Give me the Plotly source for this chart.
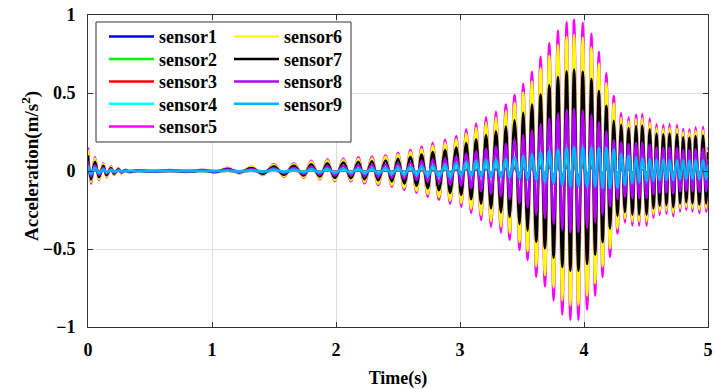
import plotly.graph_objects as go

# Times of successive extrema (peaks / troughs) of the oscillation, seconds
t_ext = [0.000, 0.024, 0.056, 0.089, 0.123, 0.150, 0.185, 0.210, 0.245, 0.270, 0.300, 0.330,
         0.40, 0.52, 0.66, 0.80, 0.93, 1.03,
         1.125, 1.22, 1.32, 1.41, 1.50, 1.58, 1.66, 1.74, 1.80, 1.87, 1.93, 1.99,
         2.06, 2.12, 2.18, 2.23, 2.29, 2.34, 2.40, 2.45, 2.50, 2.55, 2.60, 2.65, 2.69, 2.74, 2.78, 2.83, 2.88, 2.92, 2.97,
         3.01, 3.05, 3.09, 3.13, 3.17, 3.21, 3.25, 3.29, 3.33, 3.37, 3.40, 3.44, 3.48, 3.51,
         3.545, 3.58, 3.615, 3.65, 3.685, 3.72, 3.755, 3.79, 3.825, 3.86, 3.89, 3.92, 3.955, 3.99,
         4.025, 4.06, 4.09, 4.12, 4.15, 4.18, 4.21, 4.24, 4.27, 4.30, 4.33, 4.36, 4.39, 4.42, 4.445, 4.47,
         4.505, 4.53, 4.56, 4.585, 4.61, 4.64, 4.665, 4.69, 4.72, 4.75, 4.775, 4.80, 4.825, 4.85, 4.875,
         4.90, 4.93, 4.96, 4.985, 5.00]

sensor1 = [0.006, -0.003, 0.004, -0.002, 0.002, -0.002, 0.001, -0.001, 0.001, -0.001, 0.0, 0.0,
           0.0, 0.0, 0.0, 0.0, 0.0, 0.0,
           0.001, -0.001, 0.001, -0.001, 0.002, -0.001, 0.002, -0.002, 0.003, -0.002, 0.003, -0.003,
           0.003, -0.003, 0.004, -0.003, 0.004, -0.004, 0.004, -0.004, 0.005, -0.005, 0.005, -0.006, 0.006, -0.007, 0.007, -0.007, 0.008, -0.008, 0.009,
           -0.009, 0.011, -0.011, 0.012, -0.013, 0.014, -0.014, 0.015, -0.016, 0.017, -0.018, 0.019, -0.02, 0.022,
           -0.023, 0.025, -0.027, 0.029, -0.03, 0.033, -0.033, 0.036, -0.037, 0.038, -0.038, 0.039, -0.038, 0.038,
           -0.036, 0.035, -0.032, 0.031, -0.027, 0.025, -0.022, 0.019, -0.016, 0.015, -0.013, 0.014, -0.014, 0.014, -0.014, 0.015,
           -0.014, 0.013, -0.012, 0.012, -0.011, 0.012, -0.011, 0.012, -0.012, 0.012, -0.01, 0.011, -0.01, 0.011, -0.01,
           0.011, -0.011, 0.011, -0.01, 0.006]
sensor2 = [0.009, -0.005, 0.005, -0.004, 0.003, -0.002, 0.002, -0.002, 0.001, -0.001, 0.0, 0.0,
           0.0, 0.0, 0.0, 0.0, 0.0, -0.001,
           0.001, -0.001, 0.002, -0.002, 0.003, -0.002, 0.003, -0.003, 0.004, -0.003, 0.005, -0.004,
           0.005, -0.004, 0.005, -0.005, 0.006, -0.005, 0.006, -0.006, 0.007, -0.007, 0.008, -0.008, 0.009, -0.01, 0.011, -0.011, 0.012, -0.013, 0.014,
           -0.014, 0.016, -0.016, 0.018, -0.019, 0.021, -0.021, 0.023, -0.024, 0.026, -0.026, 0.029, -0.03, 0.033,
           -0.034, 0.038, -0.041, 0.044, -0.044, 0.049, -0.05, 0.054, -0.055, 0.057, -0.057, 0.058, -0.057, 0.057,
           -0.053, 0.053, -0.048, 0.046, -0.041, 0.038, -0.033, 0.029, -0.024, 0.022, -0.02, 0.021, -0.021, 0.022, -0.021, 0.022,
           -0.021, 0.02, -0.018, 0.018, -0.017, 0.018, -0.017, 0.018, -0.017, 0.018, -0.016, 0.016, -0.015, 0.016, -0.016,
           0.017, -0.016, 0.017, -0.016, 0.009]
sensor3 = [0.012, -0.006, 0.007, -0.005, 0.004, -0.003, 0.002, -0.002, 0.001, -0.001, 0.001, -0.001,
           0.0, 0.0, 0.0, 0.0, 0.001, -0.001,
           0.002, -0.001, 0.002, -0.002, 0.003, -0.003, 0.004, -0.003, 0.005, -0.004, 0.006, -0.005,
           0.006, -0.005, 0.007, -0.006, 0.007, -0.007, 0.008, -0.008, 0.009, -0.01, 0.011, -0.011, 0.012, -0.013, 0.014, -0.015, 0.016, -0.017, 0.018,
           -0.018, 0.021, -0.022, 0.024, -0.025, 0.028, -0.029, 0.03, -0.032, 0.034, -0.035, 0.039, -0.04, 0.045,
           -0.046, 0.051, -0.054, 0.059, -0.059, 0.066, -0.066, 0.072, -0.074, 0.076, -0.076, 0.078, -0.076, 0.076,
           -0.071, 0.07, -0.064, 0.061, -0.054, 0.05, -0.044, 0.038, -0.032, 0.03, -0.026, 0.028, -0.028, 0.029, -0.028, 0.029,
           -0.028, 0.027, -0.024, 0.024, -0.022, 0.024, -0.022, 0.024, -0.023, 0.024, -0.021, 0.022, -0.02, 0.021, -0.021,
           0.022, -0.022, 0.023, -0.021, 0.012]
sensor4 = [0.015, -0.008, 0.009, -0.006, 0.005, -0.004, 0.003, -0.003, 0.002, -0.002, 0.001, -0.001,
           0.0, -0.001, 0.001, -0.001, 0.001, -0.001,
           0.002, -0.002, 0.003, -0.003, 0.004, -0.004, 0.005, -0.004, 0.007, -0.005, 0.008, -0.007,
           0.008, -0.007, 0.009, -0.008, 0.009, -0.009, 0.01, -0.01, 0.012, -0.012, 0.014, -0.014, 0.016, -0.017, 0.018, -0.019, 0.02, -0.021, 0.023,
           -0.023, 0.027, -0.027, 0.031, -0.031, 0.034, -0.036, 0.038, -0.04, 0.043, -0.044, 0.049, -0.051, 0.056,
           -0.057, 0.064, -0.068, 0.073, -0.074, 0.082, -0.083, 0.09, -0.092, 0.096, -0.096, 0.097, -0.096, 0.095,
           -0.089, 0.088, -0.08, 0.077, -0.068, 0.063, -0.055, 0.048, -0.04, 0.037, -0.033, 0.035, -0.035, 0.036, -0.035, 0.037,
           -0.035, 0.034, -0.03, 0.03, -0.028, 0.03, -0.028, 0.03, -0.029, 0.03, -0.026, 0.027, -0.025, 0.027, -0.026,
           0.028, -0.027, 0.028, -0.026, 0.015]
sensor5 = [0.15, -0.08, 0.09, -0.06, 0.05, -0.04, 0.03, -0.025, 0.017, -0.015, 0.008, -0.008,
           0.004, -0.005, 0.006, -0.006, 0.008, -0.010,
           0.021, -0.015, 0.028, -0.025, 0.043, -0.036, 0.050, -0.043, 0.066, -0.053, 0.075, -0.065,
           0.080, -0.068, 0.088, -0.079, 0.092, -0.090, 0.100, -0.100, 0.117, -0.120, 0.135, -0.140, 0.156, -0.165, 0.180, -0.185, 0.200, -0.210, 0.225,
           -0.230, 0.267, -0.270, 0.305, -0.314, 0.344, -0.357, 0.380, -0.395, 0.427, -0.440, 0.487, -0.506, 0.558,
           -0.570, 0.637, -0.678, 0.733, -0.740, 0.820, -0.830, 0.900, -0.920, 0.955, -0.955, 0.970, -0.955, 0.950,
           -0.890, 0.880, -0.800, 0.765, -0.680, 0.626, -0.550, 0.480, -0.400, 0.370, -0.330, 0.345, -0.350, 0.360, -0.350, 0.365,
           -0.350, 0.335, -0.300, 0.300, -0.280, 0.295, -0.275, 0.300, -0.290, 0.295, -0.260, 0.270, -0.250, 0.267, -0.260,
           0.280, -0.270, 0.284, -0.260, 0.150]
sensor6 = [0.135, -0.072, 0.081, -0.054, 0.045, -0.036, 0.027, -0.023, 0.015, -0.014, 0.007, -0.007,
           0.004, -0.005, 0.005, -0.005, 0.007, -0.009,
           0.019, -0.014, 0.025, -0.023, 0.039, -0.032, 0.045, -0.039, 0.059, -0.048, 0.068, -0.059,
           0.072, -0.061, 0.079, -0.071, 0.083, -0.081, 0.09, -0.09, 0.105, -0.108, 0.122, -0.126, 0.14, -0.149, 0.162, -0.167, 0.18, -0.189, 0.203,
           -0.207, 0.24, -0.243, 0.275, -0.283, 0.31, -0.321, 0.342, -0.356, 0.384, -0.396, 0.438, -0.455, 0.502,
           -0.513, 0.573, -0.61, 0.66, -0.666, 0.738, -0.747, 0.81, -0.828, 0.86, -0.86, 0.873, -0.86, 0.855,
           -0.801, 0.792, -0.72, 0.689, -0.612, 0.563, -0.495, 0.432, -0.368, 0.34, -0.304, 0.317, -0.322, 0.331, -0.322, 0.336,
           -0.322, 0.308, -0.276, 0.276, -0.258, 0.271, -0.253, 0.276, -0.267, 0.271, -0.239, 0.248, -0.23, 0.246, -0.239,
           0.258, -0.248, 0.261, -0.239, 0.138]
sensor7 = [0.1, -0.054, 0.06, -0.04, 0.034, -0.027, 0.02, -0.017, 0.011, -0.01, 0.005, -0.005,
           0.003, -0.003, 0.004, -0.004, 0.005, -0.007,
           0.014, -0.01, 0.019, -0.017, 0.029, -0.024, 0.034, -0.029, 0.044, -0.036, 0.05, -0.044,
           0.054, -0.046, 0.059, -0.053, 0.062, -0.06, 0.067, -0.067, 0.078, -0.08, 0.09, -0.094, 0.105, -0.111, 0.121, -0.124, 0.134, -0.141, 0.151,
           -0.154, 0.179, -0.181, 0.204, -0.21, 0.23, -0.239, 0.255, -0.265, 0.286, -0.295, 0.326, -0.339, 0.374,
           -0.382, 0.427, -0.454, 0.491, -0.496, 0.549, -0.556, 0.603, -0.616, 0.64, -0.64, 0.65, -0.64, 0.637,
           -0.596, 0.59, -0.536, 0.513, -0.456, 0.419, -0.369, 0.322, -0.288, 0.296, -0.264, 0.276, -0.28, 0.288, -0.28, 0.292,
           -0.28, 0.268, -0.24, 0.24, -0.224, 0.236, -0.22, 0.24, -0.232, 0.236, -0.208, 0.216, -0.2, 0.214, -0.208,
           0.224, -0.216, 0.227, -0.208, 0.12]
sensor8 = [0.062, -0.033, 0.037, -0.025, 0.021, -0.016, 0.012, -0.01, 0.007, -0.006, 0.003, -0.003,
           0.002, -0.002, 0.002, -0.002, 0.003, -0.004,
           0.009, -0.006, 0.011, -0.01, 0.018, -0.015, 0.021, -0.018, 0.027, -0.022, 0.031, -0.027,
           0.033, -0.028, 0.036, -0.032, 0.038, -0.037, 0.041, -0.041, 0.048, -0.049, 0.055, -0.057, 0.064, -0.068, 0.074, -0.076, 0.082, -0.086, 0.092,
           -0.094, 0.109, -0.111, 0.125, -0.129, 0.141, -0.146, 0.156, -0.162, 0.175, -0.18, 0.2, -0.207, 0.229,
           -0.234, 0.261, -0.278, 0.301, -0.303, 0.336, -0.34, 0.369, -0.377, 0.392, -0.392, 0.398, -0.392, 0.39,
           -0.365, 0.361, -0.328, 0.314, -0.279, 0.257, -0.226, 0.197, -0.18, 0.185, -0.165, 0.173, -0.175, 0.18, -0.175, 0.183,
           -0.175, 0.168, -0.15, 0.15, -0.14, 0.148, -0.138, 0.15, -0.145, 0.148, -0.13, 0.135, -0.125, 0.134, -0.13,
           0.14, -0.135, 0.142, -0.13, 0.075]
sensor9 = [0.038, -0.02, 0.022, -0.015, 0.012, -0.01, 0.008, -0.006, 0.004, -0.004, 0.002, -0.002,
           0.001, -0.001, 0.001, -0.001, 0.002, -0.002,
           0.004, -0.003, 0.006, -0.005, 0.009, -0.007, 0.010, -0.009, 0.013, -0.011, 0.015, -0.013,
           0.016, -0.014, 0.018, -0.016, 0.018, -0.018, 0.02, -0.02, 0.023, -0.024, 0.027, -0.028, 0.031, -0.033, 0.036, -0.037, 0.04, -0.042, 0.05,
           -0.03, 0.06, -0.032, 0.065, -0.035, 0.07, -0.038, 0.075, -0.04, 0.08, -0.045, 0.09, -0.05, 0.10,
           -0.055, 0.11, -0.06, 0.12, -0.07, 0.13, -0.08, 0.14, -0.09, 0.15, -0.10, 0.155, -0.10, 0.155,
           -0.10, 0.15, -0.10, 0.15, -0.11, 0.15, -0.11, 0.14, -0.11, 0.11, -0.09, 0.10, -0.08, 0.09, -0.075, 0.085,
           -0.07, 0.08, -0.065, 0.075, -0.06, 0.075, -0.06, 0.07, -0.06, 0.07, -0.055, 0.07, -0.055, 0.07, -0.055,
           0.07, -0.055, 0.07, -0.055, 0.04]

names = ["sensor1", "sensor2", "sensor3", "sensor4", "sensor5",
         "sensor6", "sensor7", "sensor8", "sensor9"]
series = [sensor1, sensor2, sensor3, sensor4, sensor5, sensor6, sensor7, sensor8, sensor9]
colors = ["#0000FF", "#00FF00", "#FF0000", "#00FFFF", "#FF00FF",
          "#FFFF00", "#000000", "#B000FF", "#00B4FF"]

x_ticks = [0, 1, 2, 3, 4, 5]
y_ticks = [-1, -0.5, 0, 0.5, 1]
y_tick_text = ["\u22121", "\u22120.5", "0", "0.5", "1"]

lens = [len(s) for s in series]
if any(n != len(t_ext) for n in lens):
    raise ValueError(f"length mismatch: t={len(t_ext)} series={lens}")

FONT = "Liberation Serif"

# figure geometry (pixels)
W, H = 715, 389
ML, MR, MT, MB = 88, 7, 15, 62
PW, PH = W - ML - MR, H - MT - MB


def px_x(p):
    return (p - ML) / PW


def px_y(p):
    return (H - MB - p) / PH


# legend layout: two columns (5 + 4 entries), one Plotly legend per entry
col_left = [104, 229]
row_center = [36.7, 59.3, 81.7, 104.0, 126.7]

fig = go.Figure()
legend_defs = {}
for i, (nm, ys, c) in enumerate(zip(names, series, colors)):
    key = "legend" if i == 0 else f"legend{i + 1}"
    col, row = (0, i) if i < 5 else (1, i - 5)
    legend_defs[key] = dict(
        x=px_x(col_left[col]), y=px_y(row_center[row]),
        xanchor="left", yanchor="middle",
        bgcolor="rgba(0,0,0,0)", borderwidth=0, itemwidth=45,
        font=dict(family=FONT, size=18, color="#000000"),
    )
    fig.add_trace(go.Scatter(
        x=t_ext, y=ys, name="<b>" + nm + "</b>", mode="lines",
        line=dict(color=c, width=2.5, shape="spline"),
        legend=key, showlegend=True,
    ))

axis_common = dict(
    showline=True, linecolor="#333333", linewidth=1, mirror="ticks",
    ticks="inside", ticklen=5, tickcolor="#333333",
    showgrid=True, gridcolor="#dedede", gridwidth=1, zeroline=False,
    tickfont=dict(family=FONT, size=18, color="#000000", weight="bold"),
    automargin=False, ticklabeloverflow="allow",
)

fig.update_layout(
    width=W, height=H,
    showlegend=True,
    margin=dict(l=ML, r=MR, t=MT, b=MB),
    paper_bgcolor="white", plot_bgcolor="white",
    font=dict(family=FONT, size=18, color="#000000"),
    xaxis=dict(range=[0, 5], tickmode="array", tickvals=x_ticks,
               ticktext=[str(v) for v in x_ticks],
               title=dict(text="<b>Time(s)</b>", font=dict(family=FONT, size=18)),
               ticklabelstandoff=6, **axis_common),
    yaxis=dict(range=[-1, 1], tickmode="array", tickvals=y_ticks,
               ticktext=y_tick_text,
               ticklabelstandoff=8, **axis_common),
    annotations=[dict(text="<b>Acceleration(m/s<sup>2</sup>)</b>", xref="paper", yref="paper",
                      x=px_x(31), y=px_y(166), xanchor="center", yanchor="middle",
                      textangle=-90, showarrow=False,
                      font=dict(family=FONT, size=19, color="#000000"))],
    shapes=[dict(type="rect", xref="paper", yref="paper",
                 x0=px_x(96), x1=px_x(351), y0=px_y(142), y1=px_y(22),
                 line=dict(color="#333333", width=1), fillcolor="white", layer="above")],
    **legend_defs,
)

fig.write_html("out.html", post_script="document.body.style.margin='0';",
               config={"displayModeBar": False})
